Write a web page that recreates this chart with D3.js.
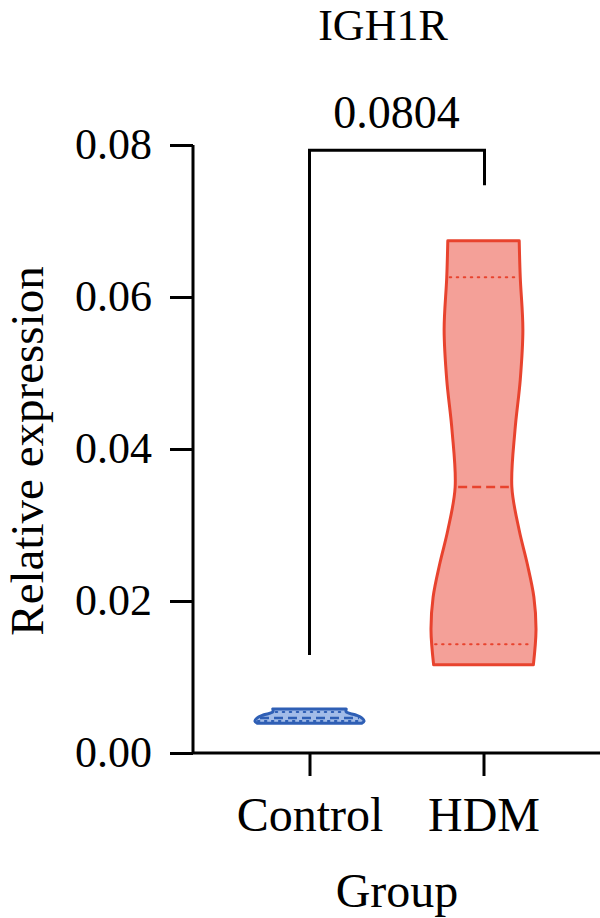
<!DOCTYPE html>
<meta charset="utf-8">
<style>
    body {
        margin: 0;
        background: #fff;
    }
    text {
        font-family: "Liberation Serif", "Times New Roman", serif;
        fill: #000;
    }
</style>
<body>
<script src="https://cdn.jsdelivr.net/npm/d3@7"></script>
<script>
    // categories and tick labels
    var groups = ["Control", "HDM"];
    var yTicks = [0, 0.02, 0.04, 0.06, 0.08];

    // violin outlines: [value, relative density]
    var controlProfile = [[0.0058, 0.70], [0.0054, 0.70], [0.0050, 0.88], [0.0046, 1.0], [0.0042, 1.04], [0.0039, 0.99]];
    var hdmProfile = [[0.0674, 0.68], [0.0626, 0.70], [0.0557, 0.75], [0.0491, 0.70], [0.0425, 0.60],
        [0.0350, 0.54], [0.0293, 0.68], [0.0250, 0.83], [0.0205, 0.96], [0.0162, 1.0], [0.0116, 0.95]];

    // median and quartiles
    var controlStats = {q1: 0.0042, median: 0.0046, q3: 0.0054};
    var hdmStats = {q1: 0.0143, median: 0.0350, q3: 0.0626};

    // significance bracket: left foot, top, right foot
    var pValue = "0.0804";
    var bracket = [0.0129, 0.0793, 0.0747];

    var width = 600, height = 918;

    var svg = d3.select("body").append("svg")
        .attr("width", width)
        .attr("height", height);

    var y = d3.scaleLinear().domain([0, 0.08]).range([753, 145]);
    var x = d3.scalePoint().domain(groups).range([309.5, 483.5]);
    var w = d3.scaleLinear().domain([0, 1]).range([0, 52.5]);

    var violins = [
        {name: "Control", profile: controlProfile, stats: controlStats, fill: "#a3bce8", stroke: "#2f5fb5"},
        {name: "HDM", profile: hdmProfile, stats: hdmStats, fill: "#f4a098", stroke: "#e8432e"}
    ];

    function halfWidth(profile, v) {
        for (var i = 0; i < profile.length - 1; i++) {
            var a = profile[i], b = profile[i + 1];
            if ((v <= a[0] && v >= b[0])) {
                var t = (v - a[0]) / (b[0] - a[0]);
                return w(a[1] + t * (b[1] - a[1]));
            }
        }
        return w(profile[profile.length - 1][1]);
    }

    violins.forEach(function(d) {
        var cx = x(d.name);
        var area = d3.area()
            .y(function(p) { return y(p[0]); })
            .x0(function(p) { return cx - w(p[1]); })
            .x1(function(p) { return cx + w(p[1]); })
            .curve(d3.curveCatmullRom);

        var g = svg.append("g");
        g.append("path")
            .datum(d.profile)
            .attr("d", area)
            .style("fill", d.fill)
            .style("stroke", d.stroke)
            .style("stroke-width", 3)
            .style("stroke-linejoin", "round");

        [["q1", "1.5,5.5"], ["q3", "1.5,5.5"], ["median", "9,5"]].forEach(function(s) {
            var v = d.stats[s[0]];
            var hw = halfWidth(d.profile, v) - 3;
            g.append("line")
                .attr("x1", cx - hw)
                .attr("x2", cx + hw)
                .attr("y1", y(v))
                .attr("y2", y(v))
                .style("stroke", d.stroke)
                .style("stroke-width", s[0] == "median" ? 2.5 : 2)
                .style("stroke-linecap", s[0] == "median" ? "butt" : "round")
                .style("stroke-dasharray", s[1]);
        });
    });

    // y axis
    var yAxis = svg.append("g")
        .attr("transform", "translate(193,0)")
        .call(d3.axisLeft(y).tickValues(yTicks).tickSize(23).tickPadding(18)
            .tickFormat(d3.format(".2f")));
    yAxis.select(".domain").attr("d", "M0," + y(0) + "V" + y(0.08));
    yAxis.selectAll("path, line").style("stroke", "#000").style("stroke-width", 3);
    yAxis.selectAll("text")
        .style("font-size", "44px")
        .attr("dy", "0.3em");

    // x axis
    var xAxis = svg.append("g")
        .attr("transform", "translate(0," + y(0) + ")")
        .call(d3.axisBottom(x).tickSize(23).tickPadding(10));
    xAxis.select(".domain").attr("d", "M193,0H600");
    xAxis.selectAll("path, line").style("stroke", "#000").style("stroke-width", 3);
    xAxis.selectAll("text")
        .style("font-size", "48px")
        .attr("y", 78)
        .attr("dy", 0);

    // bracket
    var x0 = x("Control"), x1 = x("HDM");
    svg.append("path")
        .attr("d", "M" + x0 + "," + y(bracket[0]) + "V" + y(bracket[1]) + "H" + (x1 + 1) + "V" + y(bracket[2]))
        .style("fill", "none")
        .style("stroke", "#000")
        .style("stroke-width", 3);

    svg.append("text")
        .attr("x", (x0 + x1) / 2)
        .attr("y", 128)
        .attr("text-anchor", "middle")
        .style("font-size", "46px")
        .text(pValue);

    // titles
    svg.append("text")
        .attr("x", 383)
        .attr("y", 40)
        .attr("text-anchor", "middle")
        .style("font-size", "44px")
        .text("IGH1R");

    svg.append("text")
        .attr("x", 397)
        .attr("y", 907)
        .attr("text-anchor", "middle")
        .style("font-size", "48px")
        .text("Group");

    svg.append("text")
        .attr("transform", "rotate(-90)")
        .attr("x", -451)
        .attr("y", 43)
        .attr("text-anchor", "middle")
        .style("font-size", "47px")
        .text("Relative expression");
</script>
</body>
